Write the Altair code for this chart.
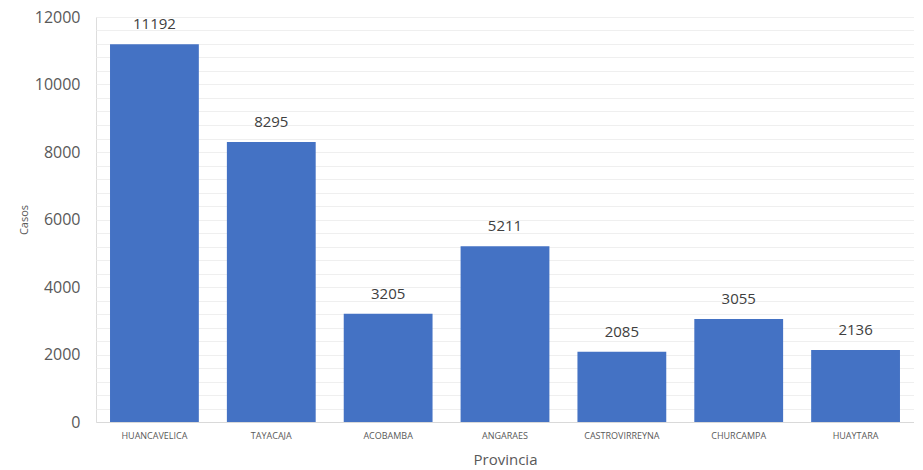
import altair as alt
import pandas as pd

provincias = ["HUANCAVELICA", "TAYACAJA", "ACOBAMBA", "ANGARAES",
              "CASTROVIRREYNA", "CHURCAMPA", "HUAYTARA"]
casos = [11192, 8295, 3205, 5211, 2085, 3055, 2136]
major_ticks = [0, 2000, 4000, 6000, 8000, 10000, 12000]
minor_ticks = list(range(0, 12001, 400))

df = pd.DataFrame({"Provincia": provincias, "Casos": casos})

font = "Open Sans"
xenc = alt.X("Provincia:N", sort=provincias, title="Provincia",
             scale=alt.Scale(paddingInner=0.24, paddingOuter=0.12),
             axis=alt.Axis(labelAngle=0, labelFontSize=9, labelColor="#595959",
                           labelFont=font, labelPadding=9, ticks=False,
                           domainColor="#d9d9d9", titleFontSize=15,
                           titleFont=font, titleColor="#595959",
                           titleFontWeight="normal", titlePadding=12))
yscale = alt.Scale(domain=[0, 12000], nice=False)

minor = alt.Chart(df).mark_bar(opacity=0).encode(
    x=xenc,
    y=alt.Y("Casos:Q", scale=yscale,
            axis=alt.Axis(orient="right", values=minor_ticks, labels=False,
                          ticks=False, domain=False, title=None,
                          gridColor="#efefef", gridWidth=1)),
)

bars = alt.Chart(df).mark_bar(color="#4472C4").encode(
    x=xenc,
    y=alt.Y("Casos:Q", scale=yscale,
            axis=alt.Axis(orient="left", values=major_ticks, ticks=False,
                          domain=False, gridColor="#d9d9d9", format="d",
                          labelFontSize=16, labelColor="#595959",
                          labelFont=font, labelPadding=16,
                          title="Casos", titleFontSize=11, titleFont=font,
                          titleColor="#595959", titleFontWeight="normal",
                          titlePadding=5)),
)

labels = alt.Chart(df).mark_text(baseline="bottom", dy=-12, fontSize=15,
                                 color="#404040", font=font).encode(
    x=alt.X("Provincia:N", sort=provincias),
    y=alt.Y("Casos:Q", scale=yscale),
    text="Casos:Q",
)

chart = alt.layer(minor, bars + labels).resolve_axis(y="independent").properties(
    width=818, height=405,
    autosize=alt.AutoSizeParams(type="none"),
    padding={"left": 88, "top": 9, "right": 0, "bottom": 48},
).configure_view(stroke=None).configure(background="white")

chart.save("out.html", embed_options={"renderer": "svg", "actions": False})
